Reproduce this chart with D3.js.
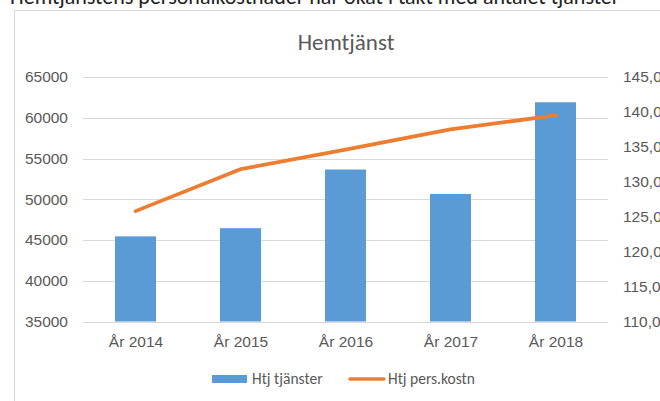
<!DOCTYPE html>
<html>
<head>
<meta charset="utf-8">
<script src="https://cdn.jsdelivr.net/npm/d3@7"></script>
<style>
  body { margin: 0; background: #fff; }
  svg { display: block; font-family: Carlito, Calibri, Lato, "Open Sans", sans-serif; }
</style>
</head>
<body>
<div id="chart"></div>
<script>
// Hemtjänst — bars (tjänster, left axis) + line (pers.kostn, right axis)
const years = ["År 2014", "År 2015", "År 2016", "År 2017", "År 2018"];
const tjanster = [45450, 46450, 53650, 50650, 61900];
const persKostn = [125.8, 131.8, 134.6, 137.5, 139.5];
const leftTicks = [35000, 40000, 45000, 50000, 55000, 60000, 65000];
const rightTicks = [110, 115, 120, 125, 130, 135, 140, 145];

(function () {
  const W = 660, H = 401;
  const margin = { top: 77, right: 52, bottom: 79.5, left: 83 };
  const width = W - margin.left - margin.right;
  const height = H - margin.top - margin.bottom;

  const svg = d3.select("#chart").append("svg")
    .attr("width", W).attr("height", H);

  // cut-off heading line above the chart frame
  svg.append("text")
    .attr("x", 10).attr("y", 4)
    .attr("font-size", "22px").attr("fill", "#222")
    .text("Hemtjänstens personalkostnader har ökat i takt med antalet tjänster");

  // chart frame
  svg.append("rect")
    .attr("x", 14.5).attr("y", 10.5)
    .attr("width", 700).attr("height", 420)
    .attr("fill", "#fff").attr("stroke", "#d9d9d9");

  svg.append("text")
    .attr("x", 346).attr("y", 50)
    .attr("text-anchor", "middle")
    .attr("font-size", "23px").attr("fill", "#595959")
    .text("Hemtjänst");

  const g = svg.append("g").attr("transform", `translate(${margin.left},${margin.top})`);

  const xc = d3.scalePoint().domain(years).range([0, width]).padding(0.5);
  const yL = d3.scaleLinear().domain([35000, 65000]).range([height, 0]);
  const yR = d3.scaleLinear().domain([110, 145]).range([height, 0]);

  // gridlines
  g.selectAll(".grid")
    .data(leftTicks)
    .join("line")
    .attr("x1", 0).attr("x2", width)
    .attr("y1", d => Math.round(yL(d)) + 0.5).attr("y2", d => Math.round(yL(d)) + 0.5)
    .attr("stroke", "#d9d9d9").attr("stroke-width", 1);

  // bars
  g.selectAll(".bar")
    .data(years)
    .join("rect")
    .attr("x", d => xc(d) - 20.5)
    .attr("width", 41)
    .attr("y", (d, i) => yL(tjanster[i]))
    .attr("height", (d, i) => height - yL(tjanster[i]))
    .attr("fill", "#5b9bd5");

  // line
  const line = d3.line()
    .x((d, i) => xc(years[i]))
    .y(d => yR(d));
  g.append("path")
    .datum(persKostn)
    .attr("d", line)
    .attr("fill", "none")
    .attr("stroke", "#ed7d31")
    .attr("stroke-width", 3.75)
    .attr("stroke-linecap", "round")
    .attr("stroke-linejoin", "round");

  // left axis
  const axL = g.append("g")
    .call(d3.axisLeft(yL).tickValues(leftTicks).tickSize(0).tickPadding(15).tickFormat(d3.format("d")));
  axL.select(".domain").remove();
  axL.selectAll("text").attr("font-size", "15.5px").attr("fill", "#595959").attr("font-family", null);

  // right axis
  const axR = g.append("g")
    .attr("transform", `translate(${width},0)`)
    .call(d3.axisRight(yR).tickValues(rightTicks).tickSize(0).tickPadding(15)
      .tickFormat(d => d.toFixed(1).replace(".", ",")));
  axR.select(".domain").remove();
  axR.selectAll("text").attr("font-size", "15.5px").attr("fill", "#595959").attr("font-family", null);

  // x axis
  const axX = g.append("g")
    .attr("transform", `translate(0,${height})`)
    .call(d3.axisBottom(xc).tickSize(0).tickPadding(14));
  axX.select(".domain").remove();
  axX.selectAll("text").attr("font-size", "15.5px").attr("fill", "#595959").attr("font-family", null);

  // legend
  const leg = svg.append("g").attr("transform", "translate(212,379)");
  leg.append("rect").attr("x", 0).attr("y", -4).attr("width", 35).attr("height", 8).attr("fill", "#5b9bd5");
  leg.append("text").attr("x", 40).attr("y", 0).attr("dy", "0.35em")
    .attr("font-size", "15.5px").attr("fill", "#595959").text("Htj tjänster");
  leg.append("line").attr("x1", 138).attr("x2", 172).attr("y1", 0).attr("y2", 0)
    .attr("stroke", "#ed7d31").attr("stroke-width", 3.5).attr("stroke-linecap", "round");
  leg.append("text").attr("x", 176).attr("y", 0).attr("dy", "0.35em")
    .attr("font-size", "15.5px").attr("fill", "#595959").text("Htj pers.kostn");
})();
</script>
</body>
</html>
